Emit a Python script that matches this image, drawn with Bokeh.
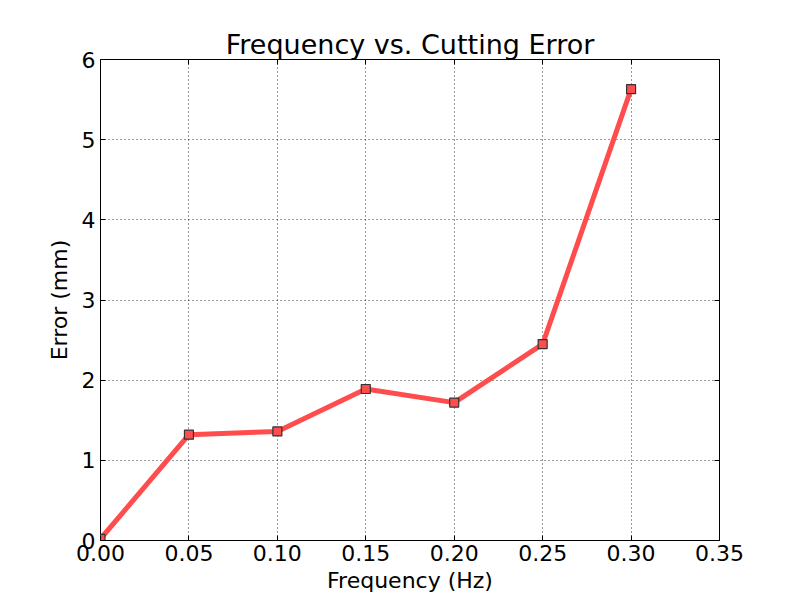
from bokeh.plotting import figure
from bokeh.models import LinearAxis, Range1d, FixedTicker, NumeralTickFormatter, Grid
from bokeh.embed import file_html
from bokeh.resources import INLINE

freq = [0.0, 0.05, 0.10, 0.15, 0.20, 0.25, 0.30]
error = [0.02, 1.32, 1.36, 1.89, 1.72, 2.45, 5.63]
x_ticks = [0.0, 0.05, 0.10, 0.15, 0.20, 0.25, 0.30, 0.35]
y_ticks = [0, 1, 2, 3, 4, 5, 6]

FONT = "DejaVu Sans"

p = figure(width=798, height=600, output_backend="svg", toolbar_location=None,
           x_range=Range1d(0, 0.35), y_range=Range1d(0, 6),
           x_axis_location=None, y_axis_location=None,
           min_border_left=100, min_border_right=79, min_border_top=59, min_border_bottom=60)

p.title.text = "Frequency vs. Cutting Error"
p.title.align = "center"
p.title.text_font = FONT
p.title.text_font_size = "27px"
p.title.text_font_style = "normal"
p.title.text_color = "black"
p.title.offset = 0
p.title.standoff = 0

p.outline_line_color = "black"
p.outline_line_width = 1
p.outline_line_alpha = 1

def style_axis(ax, ticks, labels=True, label=None, fmt=None):
    ax.ticker = FixedTicker(ticks=ticks)
    ax.axis_line_color = None
    ax.major_tick_in = 5
    ax.major_tick_out = 0
    ax.minor_tick_in = 0
    ax.minor_tick_out = 0
    ax.major_tick_line_color = "black"
    ax.major_label_text_font = FONT
    ax.major_label_text_font_size = "22px"
    ax.major_label_text_color = "black"
    ax.axis_label_text_font = FONT
    ax.axis_label_text_font_size = "22px"
    ax.axis_label_text_font_style = "normal"
    ax.axis_label_text_color = "black"
    if fmt is not None:
        ax.formatter = fmt
    if label:
        ax.axis_label = label
    if not labels:
        ax.major_label_overrides = {t: "" for t in ticks}
        ax.major_label_standoff = 0

xb = LinearAxis()
style_axis(xb, x_ticks, label="Frequency (Hz)", fmt=NumeralTickFormatter(format="0.00"))
xb.major_label_standoff = 4
xb.axis_label_standoff = 4
p.add_layout(xb, "below")

yl = LinearAxis()
style_axis(yl, y_ticks, label="Error (mm)", fmt=NumeralTickFormatter(format="0"))
yl.major_label_standoff = 5
yl.axis_label_standoff = 7
p.add_layout(yl, "left")

xt = LinearAxis()
style_axis(xt, x_ticks, labels=False)
p.add_layout(xt, "above")

yr = LinearAxis()
style_axis(yr, y_ticks, labels=False)
p.add_layout(yr, "right")

p.xgrid.visible = False
p.ygrid.visible = False
gx = Grid(dimension=0, ticker=FixedTicker(ticks=x_ticks), grid_line_color="black",
          grid_line_dash="1 3", grid_line_width=0.8)
gy = Grid(dimension=1, ticker=FixedTicker(ticks=y_ticks), grid_line_color="black",
          grid_line_dash="1 3", grid_line_width=0.8)
p.add_layout(gx)
p.add_layout(gy)

p.line(freq, error, line_color="#ff4c4c", line_width=5)
p.scatter(freq, error, marker="square", size=9, fill_color="#ff4c4c",
          line_color="#333333", line_width=1.2)

open("out.html", "w").write(file_html(p, INLINE))
